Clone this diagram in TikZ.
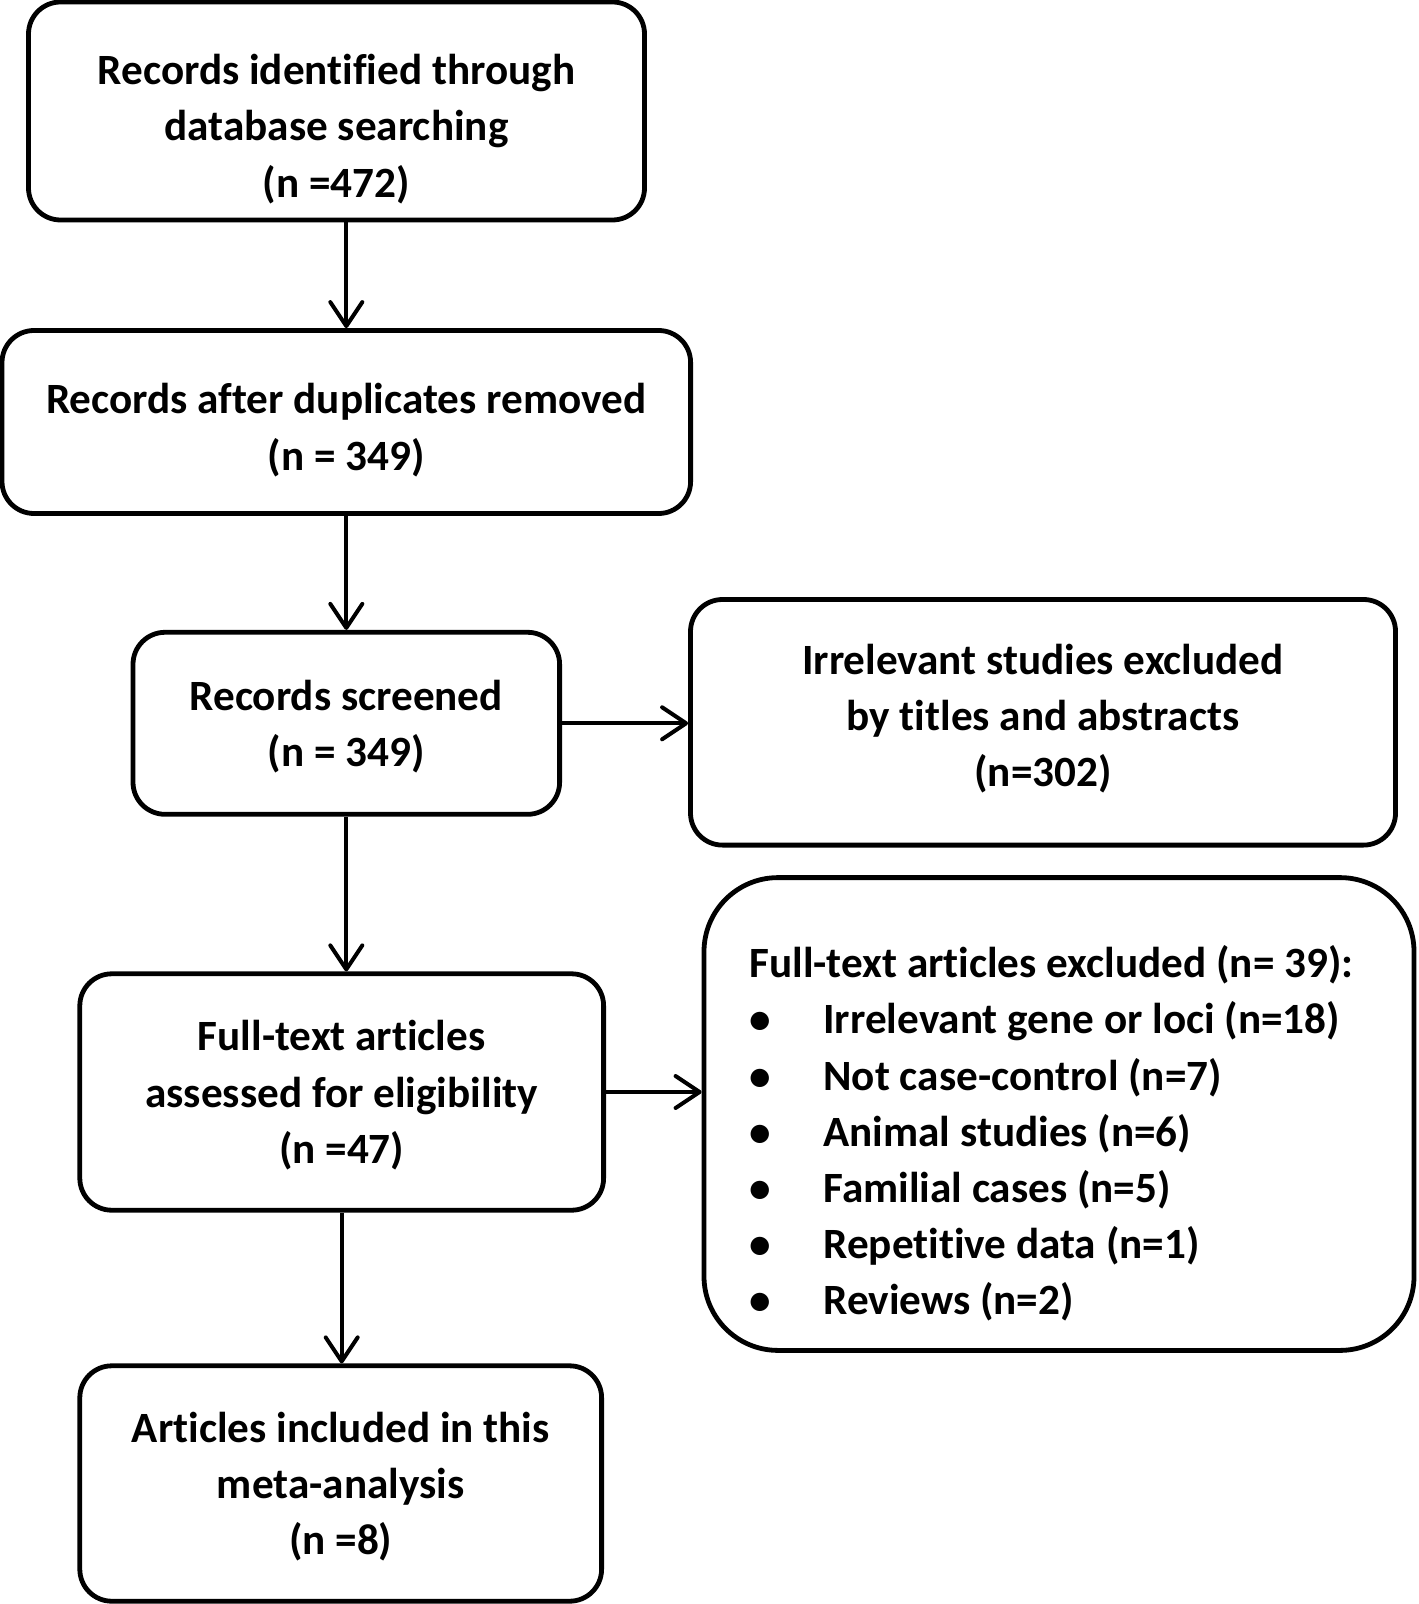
\documentclass[tikz,border=0pt]{standalone}
\usepackage{fontspec}
\setmainfont{Carlito}[Ligatures=NoCommon]
\usetikzlibrary{arrows.meta}

\newcommand{\bulletitem}{\makebox[37pt][l]{\textbullet}}

\begin{document}
\begin{tikzpicture}[x=0.5pt, y=-0.5pt,
		font=\bfseries\fontsize{21.6}{28.1}\selectfont,
		box/.style={draw, line width=2.4pt, rounded corners=16pt, align=center, inner sep=0pt, text depth=0pt},
		arr/.style={line width=2pt, -{Straight Barb[round, length=12pt, width=16pt, line width=2pt]}}]
		\useasboundingbox (0,0) rectangle (1418,1604);
		% main column
		\node[box, minimum width=308pt, minimum height=109pt] (ident) at (336.5,111) {\rule{0pt}{30pt}Records identified through\\database searching\\(n =472)};
		\node[box, minimum width=344.3pt, minimum height=91.5pt] (dupl) at (346.3,422) {\rule{0pt}{20pt}Records after duplicates removed\\(n = 349)};
		\node[box, minimum width=213.3pt, minimum height=91pt] (screen) at (346.3,723.3) {Records screened\\(n = 349)};
		\node[box, minimum width=261.9pt, minimum height=118.2pt] (full) at (341.7,1092) {Full-text articles\\assessed for eligibility\\(n =47)};
		\node[box, minimum width=260.9pt, minimum height=117.7pt] (incl) at (340.7,1483.5) {Articles included in this\\meta-analysis\\(n =8)};
		% exclusions
		\node[box, text depth=7pt, minimum width=352.5pt, minimum height=122.8pt] (irrel) at (1043,722.3) {Irrelevant studies excluded\\by titles and abstracts\\(n=302)};
		\node[box, rounded corners=37pt, minimum width=355pt, minimum height=236.4pt] (excl) at (1059,1114) {};
		\node[anchor=west, align=left, inner sep=0pt] (exlist) at (749,1133.6) {Full-text articles excluded (n= 39):\\
			\bulletitem Irrelevant gene or loci (n=18)\\
			\bulletitem Not case-control (n=7)\\
			\bulletitem Animal studies (n=6)\\
			\bulletitem Familial cases (n=5)\\
			\bulletitem Repetitive data (n=1)\\
			\bulletitem Reviews (n=2)};
		% arrows
		\draw[arr] (dupl.north |- ident.south) -- (dupl.north);
		\draw[arr] (dupl.south) -- (screen.north);
		\draw[arr] (screen.east) -- (screen.east -| irrel.west);
		\draw[arr] (screen.south) -- (screen.south |- full.north);
		\draw[arr] (full.east) -- (full.east -| excl.west);
		\draw[arr] (full.south) -- (full.south |- incl.north);
	\end{tikzpicture}
\end{document}
